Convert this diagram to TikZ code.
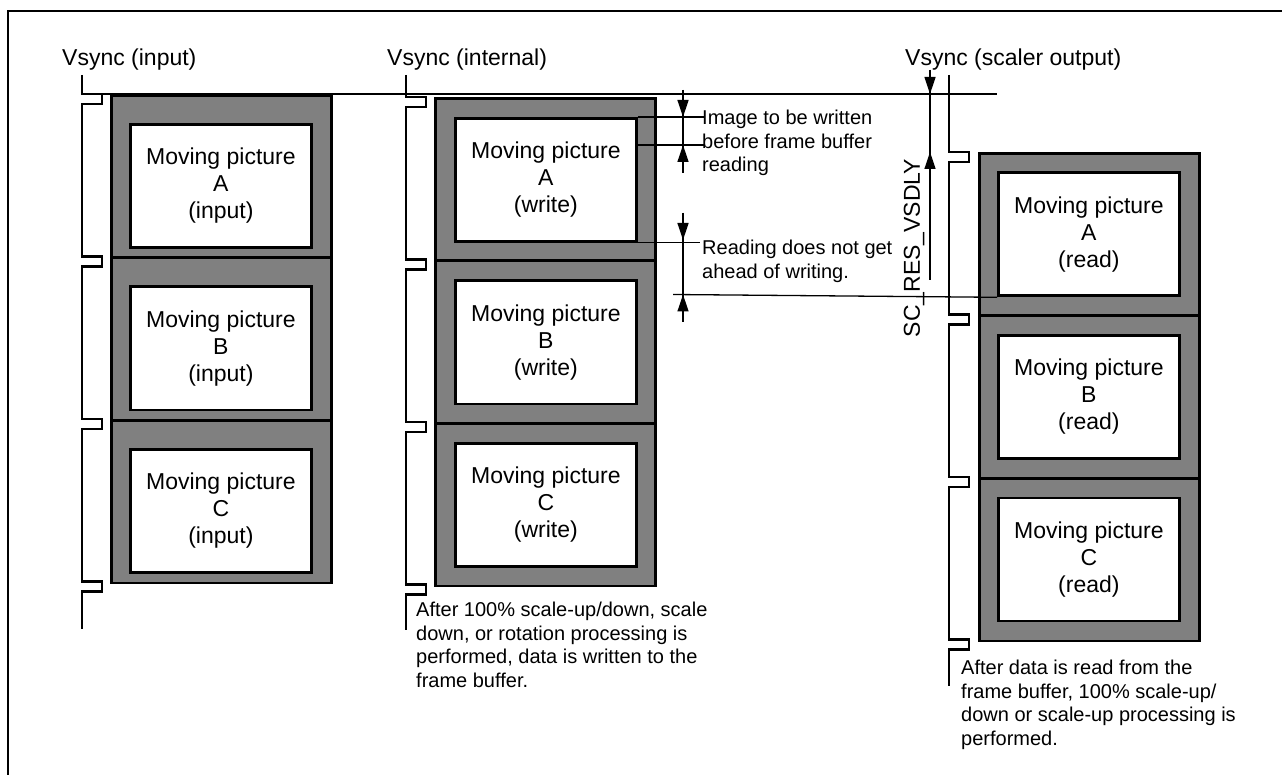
\documentclass[tikz,border=0pt]{standalone}
\usepackage{fontspec}
\setmainfont{Liberation Sans}
\usetikzlibrary{arrows.meta}
\definecolor{framegray}{RGB}{128,128,128}
\tikzset{
  frm/.style={draw, line width=2.8pt, fill=framegray, anchor=north west, inner sep=0pt,
    minimum width=220pt, minimum height=162.5pt},
  pic/.style={draw, line width=2.8pt, fill=white, anchor=north west, inner sep=0pt,
    minimum width=181pt, minimum height=123pt, align=center, font=\fontsize{23}{27}\selectfont},
  sig/.style={line width=2.8pt, line join=miter},
  dim/.style={line width=1.3pt},
  dimarr/.style={line width=1.3pt, -{Triangle[length=17pt,width=11pt]}},
  lbl/.style={inner sep=0pt, font=\fontsize{23}{27}\selectfont},
  note/.style={inner sep=0pt, anchor=north west, align=left, font=\fontsize{20}{23.5}\selectfont}
}
\begin{document}
\begin{tikzpicture}[x=1pt,y=-1pt]
\useasboundingbox (0,0) rectangle (1282,775);
% page frame
\draw[line width=2.5pt] (8,775) -- (8,11) -- (1282,11);
% frame columns
\foreach \col/\fx/\fy/\ix/\iy/\what in {in/110/94/19/29/input, wr/434/97/20/20/write, rd/978/152/19/19.5/read}{
  \foreach \lt [count=\k from 0] in {A,B,C}{
    \node[frm] (f\col\lt) at (\fx,\fy+162.5*\k) {};
    \node[pic] (p\col\lt) at (\fx+\ix,\fy+162.5*\k+\iy) {Moving picture\\\lt\\(\what)};
  }
}
% vsync signals
\foreach \sx/\sy/\sb in {82/94/629, 406/97/630, 949/152/686}{
  \draw[sig] (\sx,75) foreach \k in {0,...,3}{ -- (\sx,\sy+162.5*\k) -- ++(20,0) -- ++(0,10) -- ++(-20,0)} -- (\sx,\sb);
}
\node[lbl, anchor=base west] (vin) at (62,66) {Vsync (input)};
\node[lbl, anchor=base west] (vint) at (387,66) {Vsync (internal)};
\node[lbl, anchor=base west] (vout) at (905,66) {Vsync (scaler output)};
% reference lines
\draw[dim] (82,94) -- (997,94);
\draw[dim] (pwrA.north east) -- ++(67,0);
\draw[dim] (pwrA.north east) ++(0,28) -- ++(67,0);
\draw[dim] (pwrA.south east) -- ++(62,0);
\draw[dim] (prdA.south west) -- (673,294.5);
% dimension arrows
\draw[dim] (683,90) -- (683,173);
\draw[dimarr] (683,90) -- (683,117);
\draw[dimarr] (683,173) -- (683,145);
\draw[dim] (683,213) -- (683,322);
\draw[dimarr] (683,213) -- (683,240);
\draw[dimarr] (683,322) -- (683,294.5);
\draw[dim] (930,70) -- (930,280);
\draw[dimarr] (930,70) -- (930,94);
\draw[dimarr] (930,280) -- (930,152);
\node[lbl, rotate=90] (vsdly) at (914,248) {SC\_RES\_VSDLY};
% notes
\node[note] (nimg) at (702,110) {Image to be written\\before frame buffer\\reading};
\node[note] (nread) at (702,240) {Reading does not get\\ahead of writing.};
\node[note] (nwr) at (416,602) {After 100\% scale-up/down, scale\\down, or rotation processing is\\performed, data is written to the\\frame buffer.};
\node[note] (nrd) at (961,660) {After data is read from the\\frame buffer, 100\% scale-up/\\down or scale-up processing is\\performed.};
\end{tikzpicture}
\end{document}
